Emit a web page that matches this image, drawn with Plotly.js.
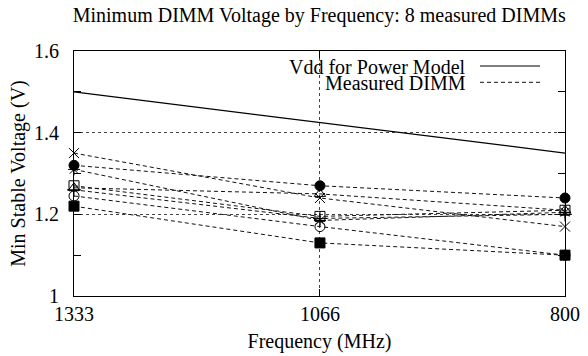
<!DOCTYPE html>
<html>
<head>
<meta charset="utf-8">
<script src="https://cdn.plot.ly/plotly-3.0.1.min.js"></script>
</head>
<body style="margin:0">
<div id="chart" style="width:588px;height:356px"></div>
<script>
// ---- data ----
const freqs = [1333, 1066, 800];
const freqLabels = ["1333", "1066", "800"];
const vddPowerModel = [1.5, 1.425, 1.35];
const dimmA = [1.26, 1.19, 1.20];   // +
const dimmB = [1.35, 1.24, 1.17];   // x
const dimmC = [1.31, 1.185, 1.205]; // *
const dimmD = [1.27, 1.195, 1.21];  // open square
const dimmE = [1.22, 1.13, 1.10];   // filled square
const dimmF = [1.245, 1.17, 1.10];  // open circle
const dimmG = [1.32, 1.27, 1.24];   // filled circle
const dimmH = [1.265, 1.25, 1.21];  // open triangle
const yTicks = [1, 1.2, 1.4, 1.6];
const yTickLabels = ["1", "1.2", "1.4", "1.6"];

const FONT = "Liberation Serif, serif";

const dimms = [
  {name: "DIMM 1", y: dimmA, symbol: "cross-thin-open"},
  {name: "DIMM 2", y: dimmB, symbol: "x-thin-open"},
  {name: "DIMM 3", y: dimmC, symbol: "asterisk-open"},
  {name: "DIMM 4", y: dimmD, symbol: "square-open"},
  {name: "DIMM 5", y: dimmE, symbol: "square"},
  {name: "DIMM 6", y: dimmF, symbol: "circle-open"},
  {name: "DIMM 7", y: dimmG, symbol: "circle"},
  {name: "DIMM 8", y: dimmH, symbol: "triangle-up-open"}
];

const traces = [{
  x: freqs, y: vddPowerModel, type: "scatter", mode: "lines",
  name: "Vdd for Power Model", showlegend: false, cliponaxis: false,
  line: {color: "#000", width: 1.2}
}];
dimms.forEach(d => {
  traces.push({
    x: freqs, y: d.y, type: "scatter", mode: "lines+markers",
    name: d.name, showlegend: false, cliponaxis: false,
    line: {color: "#111", width: 1, dash: "4px,3px"},
    marker: {symbol: d.symbol, size: 10, color: "#000",
             line: {color: "#000", width: 1}}
  });
});

const txt = {family: FONT, size: 20, color: "#000"};

const layout = {
  width: 588, height: 356,
  margin: {l: 74, r: 23, t: 51, b: 60},
  paper_bgcolor: "#fff", plot_bgcolor: "#fff",
  showlegend: false,
  title: {
    text: "Minimum DIMM Voltage by Frequency: 8 measured DIMMs",
    font: txt,
    x: 0.543, xanchor: "center", y: 0.957, yanchor: "middle", yref: "container"
  },
  xaxis: {
    range: [1333, 800],
    tickvals: freqs, ticktext: freqLabels,
    ticks: "inside", ticklen: 7, tickcolor: "#000",
    showline: true, linecolor: "#000", linewidth: 1, mirror: "ticks",
    showgrid: true, gridcolor: "#444", griddash: "dot", gridwidth: 1,
    zeroline: false,
    ticklabelstandoff: 0,
    tickfont: txt,
    title: {text: "Frequency (MHz)", font: txt, standoff: 9}
  },
  yaxis: {
    range: [1, 1.6],
    tickvals: yTicks, ticktext: yTickLabels,
    ticks: "inside", ticklen: 7, tickcolor: "#000",
    minor: {dtick: 0.1, ticks: "inside", ticklen: 7, tickcolor: "#000", showgrid: false},
    showline: true, linecolor: "#000", linewidth: 1, mirror: "ticks",
    showgrid: true, gridcolor: "#444", griddash: "dot", gridwidth: 1,
    zeroline: false,
    ticklabelstandoff: 10,
    tickfont: txt,
    title: {text: "Min Stable Voltage (V)", font: txt, standoff: 3}
  },
  shapes: [
    {type: "rect", xref: "paper", yref: "paper", x0: 0.4257, x1: 0.9654, y0: 0.8122, y1: 0.9755,
     fillcolor: "#fff", line: {width: 0}, layer: "between"},
    {type: "line", xref: "paper", yref: "paper", x0: 0.8269, x1: 0.9491, y0: 0.9388, y1: 0.9388,
     line: {color: "#000", width: 1.2}, layer: "above"},
    {type: "line", xref: "paper", yref: "paper", x0: 0.8269, x1: 0.9491, y0: 0.8722, y1: 0.8722,
     line: {color: "#111", width: 1, dash: "4px,3px"}, layer: "above"}
  ],
  annotations: [
    {text: "Vdd for Power Model", xref: "paper", yref: "paper", x: 0.8024, y: 0.9347,
     xanchor: "right", yanchor: "middle", showarrow: false, font: txt},
    {text: "Measured DIMM", xref: "paper", yref: "paper", x: 0.8024, y: 0.8714,
     xanchor: "right", yanchor: "middle", showarrow: false, font: txt}
  ]
};

Plotly.newPlot("chart", traces, layout, {displayModeBar: false});
</script>
</body>
</html>
